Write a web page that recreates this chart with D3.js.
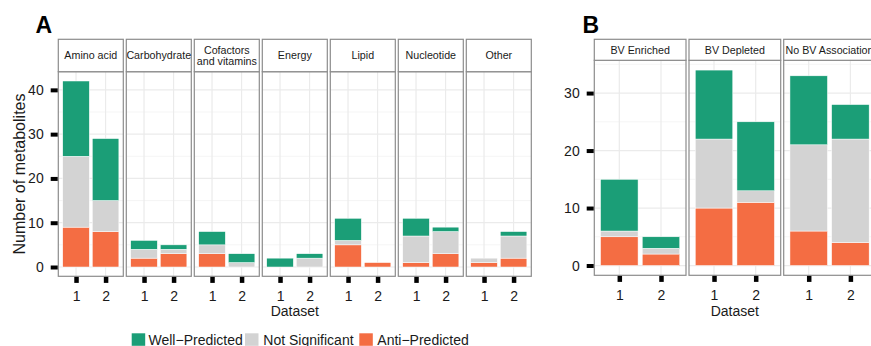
<!DOCTYPE html>
<html>
<head>
<meta charset="utf-8">
<script src="https://cdn.jsdelivr.net/npm/d3@7"></script>
<style>
  html, body { margin: 0; padding: 0; background: #fff; }
  svg { display: block; font-family: "Liberation Sans", Arial, Helvetica, sans-serif; }
</style>
</head>
<body>
<svg id="chart" width="871" height="346"></svg>
<script>
// ---------------- DATA ----------------
const datasets = ["1", "2"];

const categoriesA = ["Amino acid", "Carbohydrate", "Cofactors\nand vitamins", "Energy", "Lipid", "Nucleotide", "Other"];
// values per category: [dataset 1, dataset 2]
const antiA = [[9, 8], [2, 3], [3, 0], [0, 0], [5, 1], [1, 3], [1, 2]];
const notSigA = [[16, 7], [2, 1], [2, 1], [0, 2], [1, 0], [6, 5], [1, 5]];
const wellA = [[17, 14], [2, 1], [3, 2], [2, 1], [5, 0], [4, 1], [0, 1]];

const categoriesB = ["BV Enriched", "BV Depleted", "No BV Association"];
const antiB = [[5, 2], [10, 11], [6, 4]];
const notSigB = [[1, 1], [12, 2], [15, 18]];
const wellB = [[9, 2], [12, 12], [12, 6]];

const yTicksA = [0, 10, 20, 30, 40];
const yTicksB = [0, 10, 20, 30];

const seriesNames = ["Well\u2212Predicted", "Not Significant", "Anti\u2212Predicted"];
const seriesColors = ["#1b9e77", "#d3d3d3", "#f46d43"];

// ---------------- DRAW ----------------
const svg = d3.select("#chart");
const FONT = '"Liberation Sans", Arial, Helvetica, sans-serif';
const borderCol = "#8c8c8c";

function drawPanelGroup(opts) {
  const { cats, anti, ns, well, x0, facetW, gap, stripTop, panelTop, panelBottom, yDomain, yTicks, axisLeftX } = opts;
  const g = svg.append("g");
  const y = d3.scaleLinear().domain(yDomain).range([panelBottom, panelTop]);
  const minorTicks = d3.range(yTicks[0] + 5, yDomain[1], 10);

  cats.forEach((cat, i) => {
    const px = x0 + i * (facetW + gap);
    const x = d3.scaleLinear().domain([0.4, 2.6]).range([px, px + facetW]);
    const pg = g.append("g");

    // panel background
    pg.append("rect").attr("x", px).attr("y", panelTop).attr("width", facetW)
      .attr("height", panelBottom - panelTop).attr("fill", "#fff");
    // minor grid
    pg.selectAll(".minor").data(minorTicks).join("line")
      .attr("x1", px).attr("x2", px + facetW)
      .attr("y1", d => y(d)).attr("y2", d => y(d))
      .attr("stroke", "#f2f2f2").attr("stroke-width", 0.8);
    // major grid
    pg.selectAll(".major").data(yTicks).join("line")
      .attr("x1", px).attr("x2", px + facetW)
      .attr("y1", d => y(d)).attr("y2", d => y(d))
      .attr("stroke", "#ebebeb").attr("stroke-width", 1.2);
    pg.selectAll(".vmajor").data([1, 2]).join("line")
      .attr("x1", d => x(d)).attr("x2", d => x(d))
      .attr("y1", panelTop).attr("y2", panelBottom)
      .attr("stroke", "#ebebeb").attr("stroke-width", 1.2);

    // stacked bars
    datasets.forEach((ds, j) => {
      const segs = [
        { v: anti[i][j], c: seriesColors[2] },
        { v: ns[i][j], c: seriesColors[1] },
        { v: well[i][j], c: seriesColors[0] }
      ];
      let base = 0;
      segs.forEach(s => {
        if (s.v > 0) {
          pg.append("rect")
            .attr("x", x(j + 1 - 0.45))
            .attr("width", x(j + 1 + 0.45) - x(j + 1 - 0.45))
            .attr("y", y(base + s.v))
            .attr("height", y(base) - y(base + s.v))
            .attr("fill", s.c)
            .attr("stroke", "#fff").attr("stroke-width", 0.5);
        }
        base += s.v;
      });
    });

    // panel border
    pg.append("rect").attr("x", px).attr("y", panelTop).attr("width", facetW)
      .attr("height", panelBottom - panelTop).attr("fill", "none")
      .attr("stroke", borderCol).attr("stroke-width", 1.2);

    // strip
    pg.append("rect").attr("x", px).attr("y", stripTop).attr("width", facetW)
      .attr("height", panelTop - stripTop).attr("fill", "#fff")
      .attr("stroke", borderCol).attr("stroke-width", 1.2);
    const lines = cat.split("\n");
    const midY = (stripTop + panelTop) / 2;
    const lh = 11;
    lines.forEach((ln, k) => {
      pg.append("text")
        .attr("x", px + facetW / 2)
        .attr("y", midY + (k - (lines.length - 1) / 2) * lh + 3.8)
        .attr("text-anchor", "middle")
        .attr("font-size", "10.7px")
        .attr("font-family", FONT)
        .attr("fill", "#1a1a1a")
        .text(ln);
    });

    // x axis
    const xa = g.append("g").attr("transform", `translate(0,${panelBottom + 0.6})`)
      .call(d3.axisBottom(x).tickValues([1, 2]).tickFormat(d => datasets[d - 1]).tickSize(6).tickPadding(8));
    xa.select(".domain").remove();
    xa.selectAll(".tick line").attr("stroke", "#000").attr("stroke-width", 4.5);
    xa.selectAll(".tick text").attr("font-size", "14px").attr("font-family", FONT).attr("fill", "#1a1a1a");
  });

  // y axis
  const ya = g.append("g").attr("transform", `translate(${axisLeftX},0)`)
    .call(d3.axisLeft(y).tickValues(yTicks).tickSize(7).tickPadding(7));
  ya.select(".domain").remove();
  ya.selectAll(".tick line").attr("stroke", "#000").attr("stroke-width", 4);
  ya.selectAll(".tick text").attr("font-size", "14px").attr("font-family", FONT).attr("fill", "#1a1a1a");

  // x title
  const totalRight = x0 + cats.length * facetW + (cats.length - 1) * gap;
  g.append("text").attr("x", (x0 + totalRight) / 2).attr("y", 316)
    .attr("text-anchor", "middle").attr("font-size", "14px").attr("font-family", FONT)
    .attr("fill", "#1a1a1a").text("Dataset");
  return g;
}

drawPanelGroup({
  cats: categoriesA, anti: antiA, ns: notSigA, well: wellA,
  x0: 58.3, facetW: 65, gap: 3,
  stripTop: 39.3, panelTop: 71.7, panelBottom: 276.3,
  yDomain: [-2.1, 44.1], yTicks: yTicksA, axisLeftX: 57.7
});

drawPanelGroup({
  cats: categoriesB, anti: antiB, ns: notSigB, well: wellB,
  x0: 594.3, facetW: 91.7, gap: 3,
  stripTop: 39.3, panelTop: 60.3, panelBottom: 275.3,
  yDomain: [-1.7, 35.7], yTicks: yTicksB, axisLeftX: 593.7
});

// y title A
svg.append("text")
  .attr("transform", "translate(25,174) rotate(-90)")
  .attr("text-anchor", "middle").attr("font-size", "16px").attr("font-family", FONT)
  .attr("fill", "#1a1a1a").text("Number of metabolites");

// panel labels
svg.append("text").attr("x", 35.5).attr("y", 33.3).attr("font-size", "23px").attr("font-weight", "bold")
  .attr("font-family", FONT).attr("fill", "#000").text("A");
svg.append("text").attr("x", 582.5).attr("y", 33).attr("font-size", "23px").attr("font-weight", "bold")
  .attr("font-family", FONT).attr("fill", "#000").text("B");

// legend
const legendKeyX = [131.7, 245, 359.3];
const legendTextX = [148.5, 263.3, 377.3];
const lg = svg.append("g");
seriesNames.forEach((name, i) => {
  lg.append("rect").attr("x", legendKeyX[i]).attr("y", 333.3).attr("width", 13.5).attr("height", 12.5)
    .attr("fill", seriesColors[i]);
  lg.append("text").attr("x", legendTextX[i]).attr("y", 345).attr("font-size", "14px")
    .attr("font-family", FONT).attr("fill", "#1a1a1a").text(name);
});
</script>
</body>
</html>
